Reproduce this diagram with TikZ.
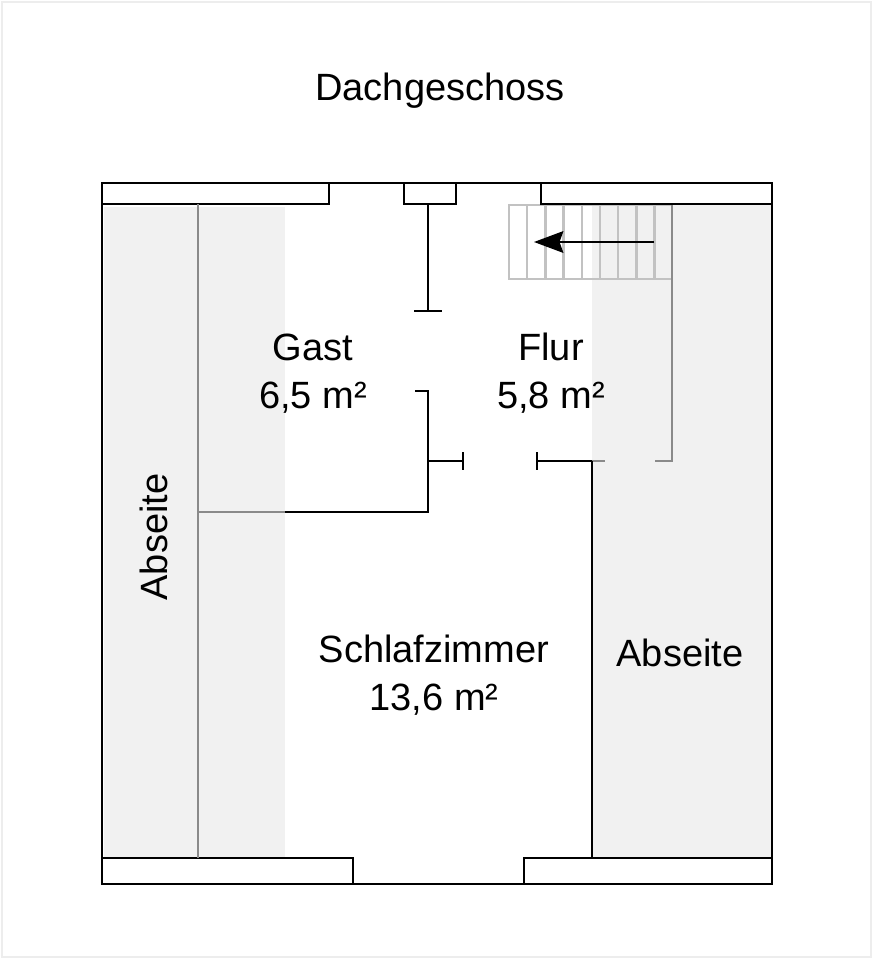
\documentclass[tikz,border=0pt]{standalone}
\usepackage{fontspec}
\setmainfont{Liberation Sans}
\usetikzlibrary{arrows.meta}
\definecolor{slopecol}{HTML}{F1F1F1}
\definecolor{glinecol}{HTML}{8A8A8A}
\definecolor{stairc}{HTML}{C2C2C2}
\definecolor{pageedge}{HTML}{EDEDED}
\begin{document}
\begin{tikzpicture}[x=1pt,y=-1pt,
  wall/.style={draw=black,line width=2.4pt,line join=miter},
  iwall/.style={draw=black,line width=2.2pt},
  gwall/.style={draw=glinecol,line width=2.2pt},
  stairline/.style={draw=stairc,line width=2.4pt},
  lbl/.style={font=\fontsize{38}{48}\selectfont,align=center,inner sep=0pt}]
\useasboundingbox (0,0) rectangle (874,960);
\draw[pageedge,line width=2pt] (2,2) rectangle (871,957);
% shaded roof slopes
\fill[slopecol] (104,207) rectangle (285,858);
\fill[slopecol] (592,204) rectangle (772,858);
% stairs
\draw[stairline] (509,205) rectangle (672,279);
\foreach \k in {1,...,8}{
  \draw[stairline] ({509+\k*18.2},205) -- ({509+\k*18.2},279);
}
\coordinate (arrS) at (654,242);
\coordinate (arrT) at (558,242);
\coordinate (tip) at (534,242);
\draw[line width=2pt] (arrS) -- (arrT);
\fill[black] (tip) -- (563.5,231) -- (559.5,242) -- (563.5,253) -- cycle;
% outer walls
\draw[wall] (102,183) rectangle (772,884);
\draw[wall] (102,204) -- (329,204) -- (329,183);
\draw[wall] (404,183) -- (404,204) -- (456,204) -- (456,183);
\draw[wall] (541,183) -- (541,204) -- (772,204);
\draw[wall] (102,858) -- (353,858) -- (353,884);
\draw[wall] (524,884) -- (524,858) -- (772,858);
% interior walls
\draw[gwall] (198,204) -- (198,858);
\draw[gwall] (198,512) -- (285,512);
\draw[iwall] (428,204) -- (428,311);
\draw[iwall] (414,311) -- (442,311);
\draw[iwall] (415,391) -- (428,391) -- (428,512) -- (285,512);
\draw[iwall] (428,461) -- (463,461);
\draw[iwall] (463,452) -- (463,470);
\draw[iwall] (537,452) -- (537,470);
\draw[iwall] (537,461) -- (592,461);
\draw[gwall] (592,461) -- (605,461);
\draw[iwall] (592,461) -- (592,858);
\draw[gwall] (655,461) -- (672,461) -- (672,205);
% labels
\node[lbl] (title) at (440,91) {Dachgeschoss};
\node[lbl] (gast) at (313,374) {Gast\\6,5 m²};
\node[lbl] (flur) at (551,373) {Flur\\5,8 m²};
\node[lbl] (schlaf) at (434,675) {Schlafzimmer\\13,6 m²};
\node[lbl] (abs2) at (680,653) {Abseite};
\node[lbl,rotate=90] (abs1) at (154,537) {Abseite};
\end{tikzpicture}
\end{document}
